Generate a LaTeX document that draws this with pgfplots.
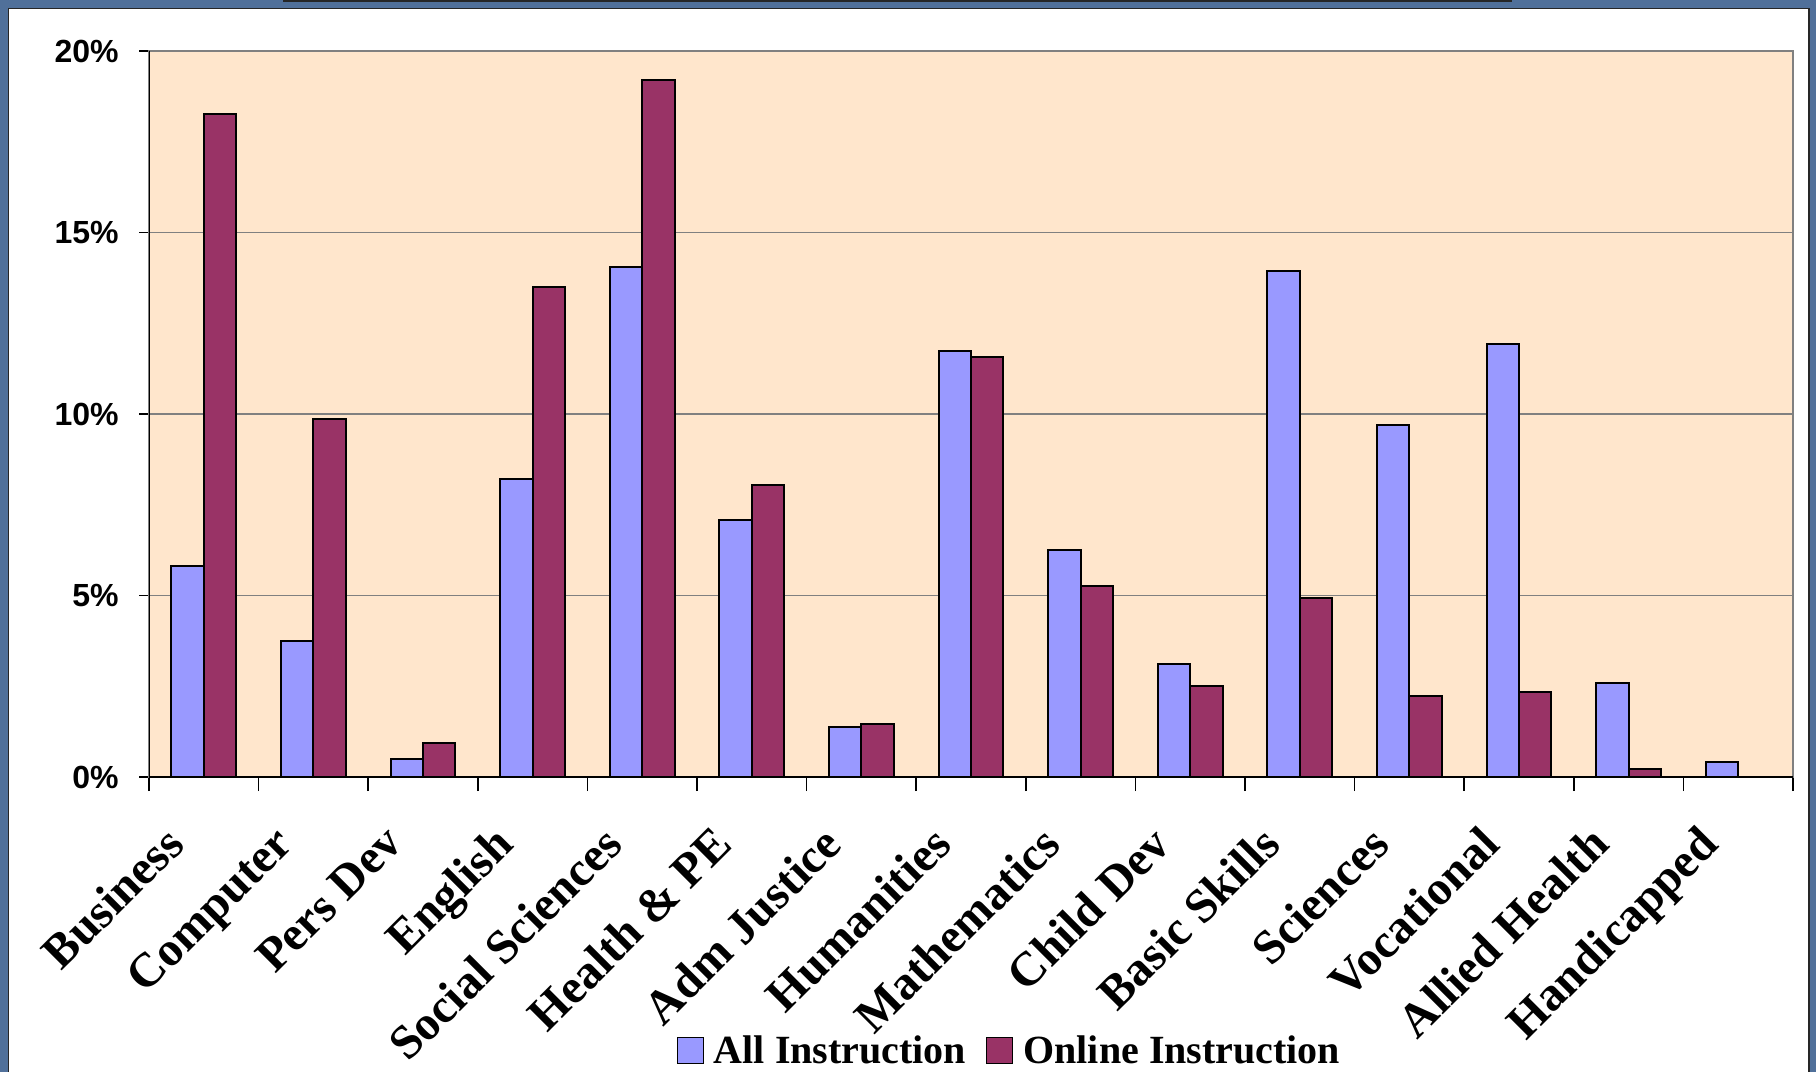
\documentclass[border=0pt]{standalone}
\usepackage{pgfplots}
\pgfplotsset{compat=1.18}
\usepackage{fontspec}
\setmainfont{Liberation Serif}
\newfontfamily\arial{Liberation Sans}

\definecolor{allc}{HTML}{9999FF}
\definecolor{onlc}{HTML}{993366}
\definecolor{plotbg}{HTML}{FFE6CC}
\definecolor{frame}{HTML}{50709A}
\definecolor{gridc}{HTML}{808080}

\begin{document}
\begin{tikzpicture}
\path[use as bounding box] (0,0) rectangle (908pt,536pt);
\fill[frame] (0,0) rectangle (908pt,536pt);
\fill[white] (4.25pt,0) rectangle (904.5pt,531.75pt);
\draw[black!85, line width=0.8pt] (4.25pt,0) -- (4.25pt,531.75pt) -- (904.5pt,531.75pt) -- (904.5pt,0);
\draw[black!85, line width=1.2pt] (141.5pt,535.6pt) -- (756pt,535.6pt);

\begin{axis}[
    at={(74.5pt,147.5pt)}, anchor=south west,
    scale only axis, width=822pt, height=363pt,
    xmin=-0.5, xmax=14.5, ymin=0, ymax=20,
    axis background/.style={fill=plotbg},
    axis line style={draw=gridc, line width=0.8pt},
    ymajorgrids, grid style={gridc, line width=0.8pt},
    xtick={0,...,14},
    xticklabels={Business, Computer, Pers Dev, English, Social Sciences,
        Health \& PE, Adm Justice, Humanities, Mathematics, Child Dev,
        Basic Skills, Sciences, Vocational, Allied Health, Handicapped},
    minor xtick={-0.5,0.5,...,14.5},
    major x tick style={draw=none},
    minor x tick style={black, line width=0.8pt},
    ytick={0,5,10,15,20},
    yticklabels={0\%,5\%,10\%,15\%,20\%},
    y tick style={black, line width=0.8pt},
    tick align=outside, tick pos=left,
    major tick length=5pt, minor tick length=7pt,
    xticklabel style={font=\fontsize{24}{28}\selectfont\bfseries,
        inner sep=0pt, xshift=-20.5pt, yshift=-18pt, rotate=45, anchor=north east},
    yticklabel style={font=\arial\fontsize{16}{19}\selectfont\bfseries,
        inner sep=0pt, xshift=-10pt, anchor=east},
    legend style={at={(0.524,-0.377)}, anchor=center, draw=none, fill=none,
        legend columns=2, font=\fontsize{20}{24}\selectfont\bfseries,
        /tikz/every odd column/.append style={column sep=3pt},
        /tikz/every even column/.append style={column sep=8pt}},
    ybar, bar width=0.296,
    legend image code/.code={\draw[#1, line width=0.6pt] (0pt,-6.5pt) rectangle (13pt,6.5pt);},
]

% All Instruction
\addplot[fill=allc, draw=black, line width=1pt, bar shift=-0.148] coordinates {
    (0,5.80) (1,3.75) (2,0.50) (3,8.20) (4,14.05) (5,7.07) (6,1.37) (7,11.73)
    (8,6.26) (9,3.10) (10,13.93) (11,9.71) (12,11.92) (13,2.59) (14,0.42)
};
\addlegendentry{All Instruction}

% Online Instruction
\addplot[fill=onlc, draw=black, line width=1pt, bar shift=0.148] coordinates {
    (0,18.27) (1,9.87) (2,0.93) (3,13.51) (4,19.20) (5,8.05) (6,1.47) (7,11.57)
    (8,5.27) (9,2.52) (10,4.92) (11,2.24) (12,2.33) (13,0.22)
};
\addlegendentry{Online Instruction}

\draw[black, line width=0.9pt] (rel axis cs:0,1) -- (rel axis cs:0,0) -- (rel axis cs:1,0);
\end{axis}
\end{tikzpicture}
\end{document}
